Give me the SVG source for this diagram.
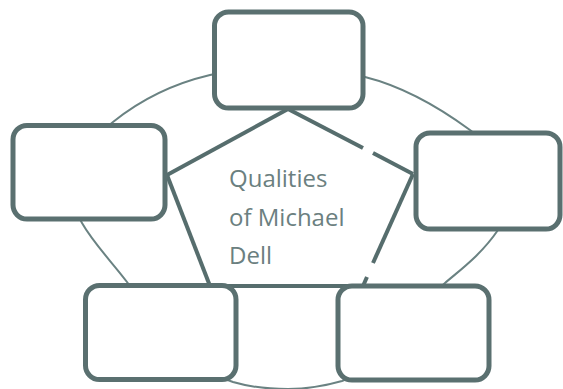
<svg xmlns="http://www.w3.org/2000/svg" width="563" height="389" viewBox="0 0 563 389">
  <style>
    .ring { fill: none; stroke: #6a8282; stroke-width: 2; }
    .edge { fill: none; stroke: #566d6d; stroke-width: 4; stroke-linecap: butt; }
    .box { fill: #ffffff; stroke: #5a7070; stroke-width: 5; }
    .label { font-family: "Open Sans", "Liberation Sans", sans-serif; font-size: 24px; fill: #6b8080; }
  </style>
  <rect width="563" height="389" fill="#ffffff"/>
  <g id="connectors">
    <path class="ring" d="M210,75 C250,65 325,67 365,77 C405,87 440,108 470,130 C510,160 526,189 498,230 C481,255 460,270 445,283 C400,323 378,369 342,381 C325,386 305,389 288,389 C271,389 250,387 233,382 C197,370 163,330 127,282 C112,262 94,244 82,223 C57,180 74,153 113,122 C144,97 176,83 210,75 Z"/>
    <line class="edge" x1="288" y1="109" x2="167" y2="175"/>
    <line class="edge" x1="288" y1="109" x2="363" y2="148"/>
    <line class="edge" x1="373" y1="153" x2="413" y2="174"/>
    <line class="edge" x1="413" y1="174" x2="373" y2="263"/>
    <line class="edge" x1="367" y1="277" x2="363" y2="286"/>
    <line class="edge" x1="167" y1="175" x2="210" y2="286"/>
    <line class="edge" x1="210" y1="286" x2="365" y2="286"/>
  </g>
  <g id="center">
    <text class="label" x="229" y="187">Qualities</text>
    <text class="label" x="229" y="226">of Michael</text>
    <text class="label" x="229" y="264">Dell</text>
  </g>
  <g id="node-top">
    <rect class="box" x="214.5" y="12" width="148.5" height="96" rx="14"/>
  </g>
  <g id="node-left">
    <rect class="box" x="13" y="125.5" width="152" height="93.5" rx="14"/>
  </g>
  <g id="node-right">
    <rect class="box" x="416" y="133" width="144" height="96" rx="14"/>
  </g>
  <g id="node-bottom-left">
    <rect class="box" x="85.5" y="285.5" width="150.5" height="94" rx="14"/>
  </g>
  <g id="node-bottom-right">
    <rect class="box" x="338" y="286" width="151" height="94" rx="14"/>
  </g>
</svg>
